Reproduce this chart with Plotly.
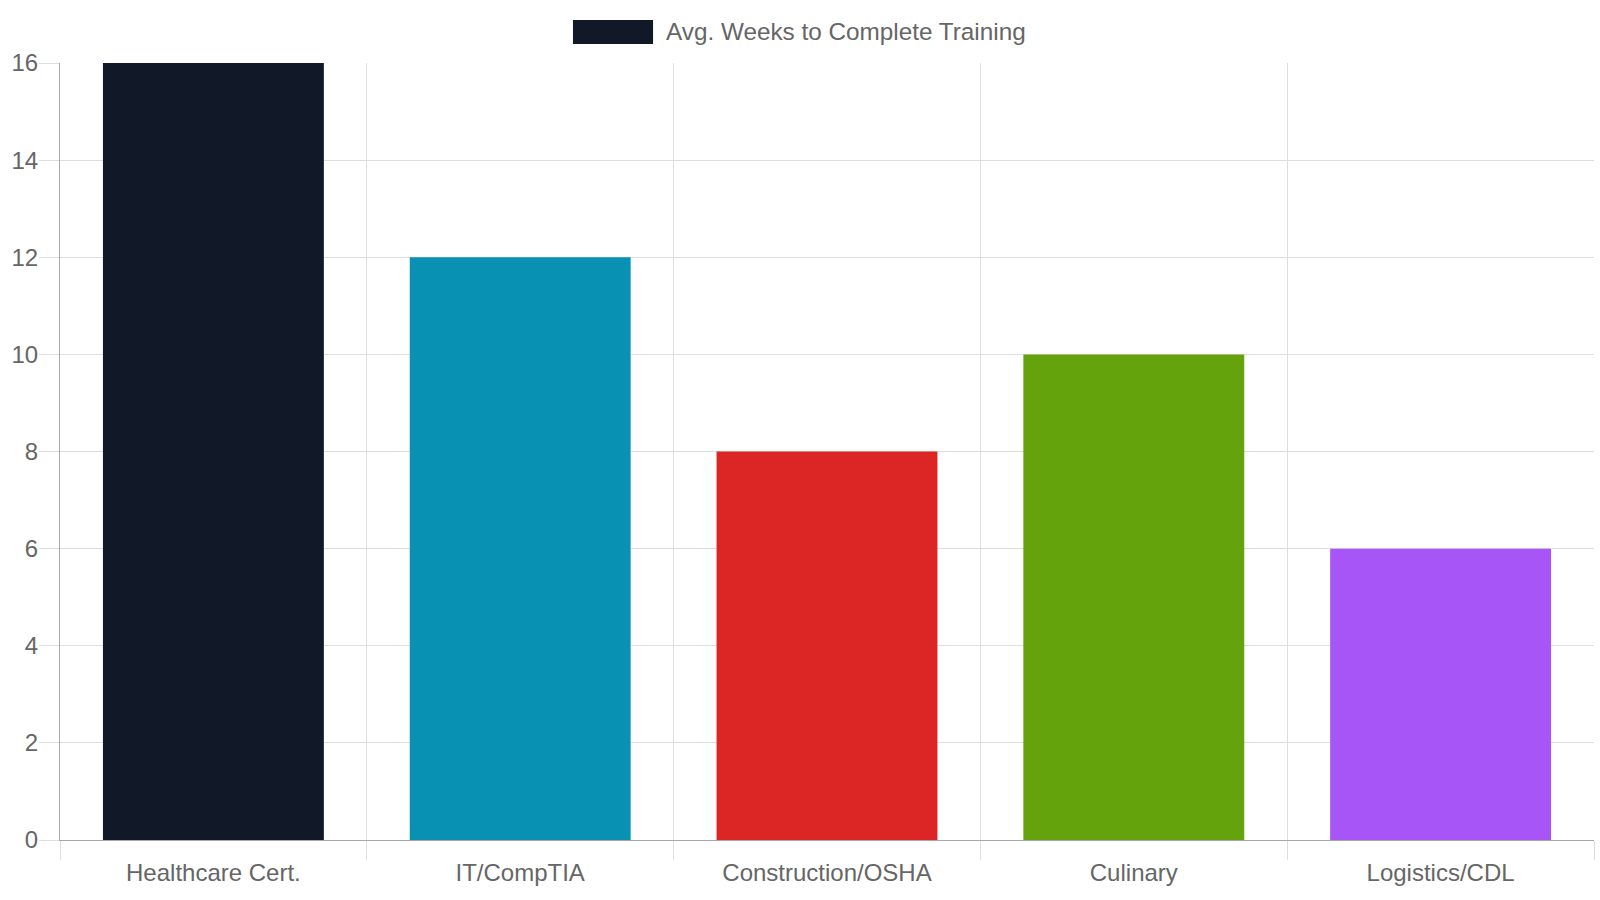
import plotly.graph_objects as go

categories = ["Healthcare Cert.", "IT/CompTIA", "Construction/OSHA", "Culinary", "Logistics/CDL"]
weeks = [16, 12, 8, 10, 6]
colors = ["#111827", "#0891b2", "#dc2626", "#65a30d", "#a855f7"]
series_name = "Avg. Weeks to Complete Training"
y_ticks = [0, 2, 4, 6, 8, 10, 12, 14, 16]

FONT = "Liberation Sans, Arial, sans-serif"
GRID = "#dedede"
AXIS = "#a8a8a8"

fig = go.Figure()
fig.add_trace(go.Bar(
    x=categories, y=weeks, name=series_name,
    marker=dict(color=colors, line=dict(width=0)),
    showlegend=False,
))

# Legend (Chart.js-style wide box)
fig.add_shape(type="rect", xref="paper", yref="paper",
              x0=0.3344, x1=0.3866, y0=1.0244, y1=1.0553,
              fillcolor=colors[0], line=dict(width=0))
fig.add_annotation(xref="paper", yref="paper", x=0.3940, y=1.0399,
                   xanchor="left", yanchor="middle", showarrow=False,
                   text=series_name, font=dict(family=FONT, size=24.3, color="#666666"))

fig.update_layout(
    width=1600, height=900,
    margin=dict(l=60, r=6, t=63, b=60),
    paper_bgcolor="white", plot_bgcolor="white",
    bargap=0.28,
    font=dict(family=FONT, size=24, color="#666666"),
    xaxis=dict(
        type="category", tickson="boundaries", ticks="outside", ticklen=19,
        tickcolor=GRID, tickwidth=1, showgrid=True, gridcolor=GRID, gridwidth=1,
        showline=True, linecolor=AXIS, linewidth=1, ticklabelstandoff=11,
        tickfont=dict(family=FONT, size=24, color="#666666"),
    ),
    yaxis=dict(
        range=[0, 16], tickvals=y_ticks, ticks="outside", ticklen=20,
        tickcolor=GRID, tickwidth=1, showgrid=True, gridcolor=GRID, gridwidth=1,
        zeroline=False, showline=True, linecolor=AXIS, linewidth=1,
        ticklabelstandoff=-4,
        tickfont=dict(family=FONT, size=24, color="#666666"),
    ),
)

fig.write_html("out.html")
